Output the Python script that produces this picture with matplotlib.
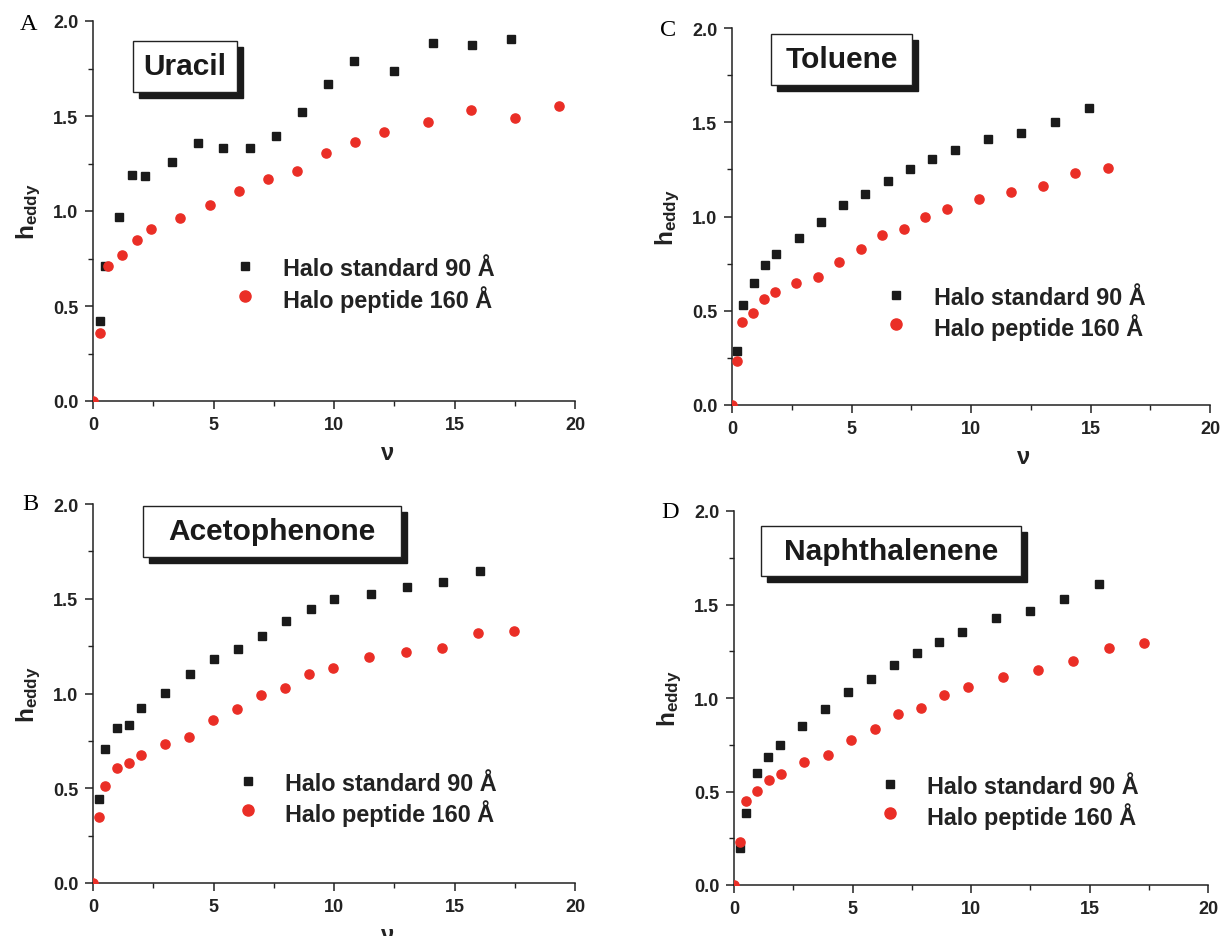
import matplotlib

matplotlib.use("Agg")
import matplotlib.pyplot as plt
from matplotlib.patches import Rectangle
from matplotlib.ticker import MultipleLocator
from matplotlib.transforms import offset_copy

plt.rcParams["font.family"] = ["Liberation Sans", "DejaVu Sans"]
plt.rcParams["font.weight"] = "bold"
plt.rcParams["mathtext.fontset"] = "custom"
plt.rcParams["mathtext.rm"] = "Liberation Sans:bold"
plt.rcParams["mathtext.bf"] = "Liberation Sans:bold"
plt.rcParams["mathtext.it"] = "Liberation Sans:bold"

# --- data (nu, h_eddy) ---
uracil_std_v = [0.27, 0.51, 1.08, 1.62, 2.16, 3.26, 4.34, 5.41, 6.51, 7.59, 8.67,
                9.75, 10.85, 12.47, 14.10, 15.72, 17.34]
uracil_std_h = [0.419, 0.711, 0.969, 1.188, 1.184, 1.258, 1.357, 1.333, 1.333, 1.396,
                1.520, 1.668, 1.787, 1.738, 1.883, 1.874, 1.906]
uracil_pep_v = [0.0, 0.30, 0.62, 1.21, 1.81, 2.42, 3.63, 4.84, 6.05, 7.26, 8.45,
                9.66, 10.87, 12.08, 13.89, 15.70, 17.52, 19.33]
uracil_pep_h = [0.0, 0.358, 0.711, 0.770, 0.849, 0.903, 0.961, 1.031, 1.107, 1.167,
                1.212, 1.305, 1.364, 1.418, 1.466, 1.532, 1.490, 1.555]

toluene_std_v = [0.21, 0.46, 0.91, 1.39, 1.84, 2.79, 3.72, 4.65, 5.58, 6.51, 7.44,
                 8.38, 9.32, 10.71, 12.11, 13.52, 14.92]
toluene_std_h = [0.287, 0.532, 0.648, 0.744, 0.802, 0.885, 0.973, 1.059, 1.119, 1.188,
                 1.253, 1.307, 1.355, 1.413, 1.445, 1.500, 1.574]
toluene_pep_v = [0.0, 0.20, 0.42, 0.88, 1.32, 1.78, 2.68, 3.59, 4.49, 5.39, 6.29,
                 7.18, 8.08, 8.98, 10.32, 11.67, 13.01, 14.37, 15.72]
toluene_pep_h = [0.0, 0.236, 0.442, 0.488, 0.564, 0.597, 0.647, 0.678, 0.756, 0.825,
                 0.900, 0.934, 0.996, 1.038, 1.091, 1.130, 1.163, 1.232, 1.256]

aceto_std_v = [0.26, 0.50, 1.01, 1.50, 2.01, 3.00, 4.01, 5.02, 6.01, 7.01, 8.02,
               9.03, 10.02, 11.52, 13.04, 14.54, 16.04]
aceto_std_h = [0.445, 0.708, 0.819, 0.833, 0.924, 1.004, 1.104, 1.183, 1.234, 1.302,
               1.383, 1.446, 1.497, 1.527, 1.562, 1.589, 1.645]
aceto_pep_v = [0.0, 0.24, 0.50, 1.01, 1.50, 2.00, 2.99, 3.98, 4.98, 5.97, 6.98,
               7.97, 8.98, 9.97, 11.47, 12.97, 14.47, 15.96, 17.46]
aceto_pep_h = [0.0, 0.350, 0.510, 0.608, 0.633, 0.678, 0.736, 0.770, 0.859, 0.916,
               0.993, 1.030, 1.104, 1.134, 1.190, 1.220, 1.241, 1.318, 1.330]

naph_std_v = [0.25, 0.50, 0.97, 1.45, 1.95, 2.89, 3.84, 4.82, 5.78, 6.75, 7.72,
              8.66, 9.62, 11.06, 12.51, 13.94, 15.40]
naph_std_h = [0.200, 0.387, 0.597, 0.686, 0.749, 0.852, 0.941, 1.034, 1.102, 1.176,
              1.241, 1.301, 1.355, 1.426, 1.467, 1.528, 1.611]
naph_pep_v = [0.0, 0.26, 0.50, 0.99, 1.49, 1.98, 2.97, 3.96, 4.95, 5.94, 6.91,
              7.90, 8.88, 9.87, 11.37, 12.84, 14.32, 15.81, 17.29]
naph_pep_h = [0.0, 0.228, 0.449, 0.504, 0.563, 0.595, 0.656, 0.693, 0.775, 0.834,
              0.914, 0.948, 1.014, 1.057, 1.112, 1.152, 1.196, 1.266, 1.292]

SERIES_LABELS = ["Halo standard 90 Å", "Halo peptide 160 Å"]
BLACK = "#1a1a1a"
RED = "#ea2e26"

FIG_W, FIG_H = 1221, 937

# letter, title, data, axes px (left, top, right, bottom), title box (axes frac),
# legend (marker x, text x, row1 y, row2 y), letter px, show nu label
PANELS = [
    ("A", "Uracil", (uracil_std_v, uracil_std_h, uracil_pep_v, uracil_pep_h),
     (93, 22, 575, 402), (0.083, 0.813, 0.215, 0.135),
     (0.316, 0.394, 0.354, 0.277), (29, 24), True),
    ("C", "Toluene", (toluene_std_v, toluene_std_h, toluene_pep_v, toluene_pep_h),
     (732, 29, 1210, 406), (0.0816, 0.849, 0.295, 0.135),
     (0.344, 0.422, 0.2925, 0.214), (668, 30), True),
    ("B", "Acetophenone", (aceto_std_v, aceto_std_h, aceto_pep_v, aceto_pep_h),
     (93, 505, 575, 884), (0.104, 0.860, 0.534, 0.135),
     (0.322, 0.399, 0.268, 0.192), (30, 505), True),
    ("D", "Naphthalenene", (naph_std_v, naph_std_h, naph_pep_v, naph_pep_h),
     (734, 512, 1208, 886), (0.057, 0.826, 0.549, 0.134),
     (0.330, 0.408, 0.271, 0.193), (670, 513), False),
]


def px_rect(left, top, right, bottom):
    return [left / FIG_W, 1 - bottom / FIG_H, (right - left) / FIG_W, (bottom - top) / FIG_H]


fig = plt.figure(figsize=(FIG_W / 100, FIG_H / 100), dpi=100)

for letter, title, (sv, sh, pv, ph), ax_px, box, leg, let_px, show_nu in PANELS:
    ax = fig.add_axes(px_rect(*ax_px))
    ax.plot(sv, sh, ls="none", marker="s", ms=6.0, color=BLACK, mec=BLACK, zorder=3)
    ax.plot(pv, ph, ls="none", marker="o", ms=6.6, color=RED, mec=RED, zorder=3)

    ax.set_xlim(0, 20)
    ax.set_ylim(0, 2.0)
    ax.xaxis.set_major_locator(MultipleLocator(5))
    ax.xaxis.set_minor_locator(MultipleLocator(2.5))
    ax.yaxis.set_major_locator(MultipleLocator(0.5))
    ax.yaxis.set_minor_locator(MultipleLocator(0.25))
    ax.xaxis.set_major_formatter(plt.FuncFormatter(lambda v, _: f"{v:.0f}"))
    ax.yaxis.set_major_formatter(plt.FuncFormatter(lambda v, _: f"{v:.1f}"))
    ax.tick_params(which="major", direction="out", length=5.5, width=1.1, pad=5,
                   labelsize=13, color="#222222", labelcolor="#222222")
    ax.tick_params(which="minor", direction="out", length=3.5, width=1.0, color="#222222")
    for lbl in ax.get_xticklabels() + ax.get_yticklabels():
        lbl.set_fontweight("bold")
    for side in ("top", "right"):
        ax.spines[side].set_visible(False)
    for side in ("left", "bottom"):
        ax.spines[side].set_linewidth(1.1)
        ax.spines[side].set_color("#222222")

    ax.set_ylabel(r"$\mathrm{h_{eddy}}$", fontsize=17.5, labelpad=7, color="#222222")
    if show_nu:
        ax.set_xlabel("ν", fontsize=17, fontweight="bold", color="#222222")
        ax.xaxis.set_label_coords(0.61, -0.105)

    # title box with drop shadow
    bx, by, bw, bh = box
    shadow_tf = offset_copy(ax.transAxes, fig=fig, x=6, y=-6, units="dots")
    ax.add_patch(Rectangle((bx, by), bw, bh, transform=shadow_tf, facecolor="#1a1a1a",
                           edgecolor="#1a1a1a", clip_on=False, zorder=4))
    ax.add_patch(Rectangle((bx, by), bw, bh, transform=ax.transAxes, facecolor="white",
                           edgecolor="#222222", lw=1.0, clip_on=False, zorder=5))
    ax.text(bx + bw / 2, by + bh / 2, title, transform=ax.transAxes, ha="center",
            va="center", fontsize=21.5, fontweight="bold", color="#1a1a1a", zorder=6)

    # legend
    mx, tx, y1, y2 = leg
    ax.plot([mx], [y1], transform=ax.transAxes, marker="s", ms=6.2, color=BLACK,
            clip_on=False, ls="none")
    ax.plot([mx], [y2], transform=ax.transAxes, marker="o", ms=8.0, color=RED,
            clip_on=False, ls="none")
    ax.text(tx, y1, SERIES_LABELS[0], transform=ax.transAxes, ha="left",
            va="center_baseline", fontsize=16.8, fontweight="bold", color="#222222")
    ax.text(tx, y2, SERIES_LABELS[1], transform=ax.transAxes, ha="left",
            va="center_baseline", fontsize=16.8, fontweight="bold", color="#222222")

    fig.text(let_px[0] / FIG_W, 1 - let_px[1] / FIG_H, letter, ha="center", va="center",
             fontsize=17.5, family="Liberation Serif", fontweight="normal")

fig.savefig("out.png", dpi=100)
